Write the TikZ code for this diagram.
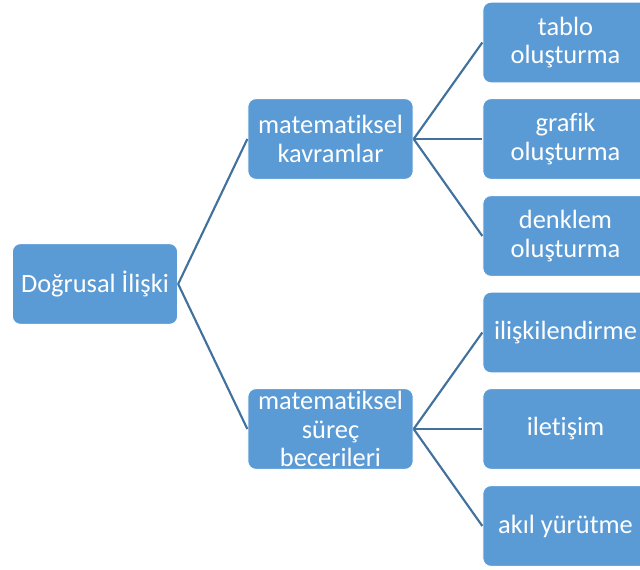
\documentclass[tikz,border=0pt]{standalone}
\usepackage{fontspec}
\setmainfont{Carlito}[Ligatures={NoCommon,NoContextual}]
\definecolor{boxblue}{HTML}{5B9BD5}
\definecolor{linkblue}{HTML}{41719C}
\begin{document}
\begin{tikzpicture}[x=0.75pt,y=-0.75pt,
  box/.style={rectangle, rounded corners=6pt, fill=boxblue, draw=white,
    line width=0.75pt, text=white, align=center,
    minimum width=124pt, minimum height=60.5pt, inner sep=0pt,
    font=\fontsize{19.8}{21.5}\selectfont},
  link/.style={draw=linkblue, line width=1.6pt}]
\useasboundingbox (0,0) rectangle (640,570);
\clip (0,0) rectangle (640,570);

% root
\node[box] (root) at (95,284) {Doğrusal İlişki};

% second level
\node[box] (kav) at (330.5,139) {matematiksel\\kavramlar};
\node[box] (sur) at (330.5,429) {matematiksel\\süreç\\becerileri};

% leaves
\node[box] (l1) at (565.5,42.5) {tablo\\oluşturma};
\node[box] (l2) at (565.5,139) {grafik\\oluşturma};
\node[box] (l3) at (565.5,236) {denklem\\oluşturma};
\node[box] (l4) at (565.5,332.5) {ilişkilendirme};
\node[box] (l5) at (565.5,429) {iletişim};
\node[box] (l6) at (565.5,526) {akıl yürütme};

% connectors
\foreach \t in {kav,sur} \draw[link] (root.east) -- (\t.west);
\foreach \t in {l1,l2,l3} \draw[link] (kav.east) -- (\t.west);
\foreach \t in {l4,l5,l6} \draw[link] (sur.east) -- (\t.west);
\end{tikzpicture}
\end{document}
